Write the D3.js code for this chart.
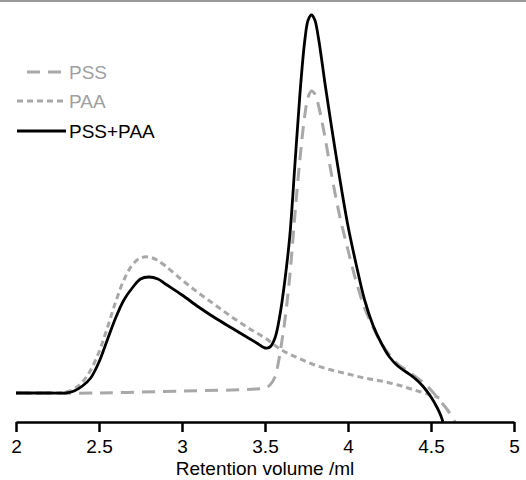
<!DOCTYPE html>
<html><head><meta charset="utf-8">
<script src="https://cdn.jsdelivr.net/npm/d3@7"></script>
<style>body{margin:0;background:#fff}svg{display:block}text{font-family:"Liberation Sans",Arial,sans-serif}</style>
</head><body><svg id="c" width="526" height="480"></svg>
<script>
const xTicks = [2, 2.5, 3, 3.5, 4, 4.5, 5];
const xTickLabels = ["2", "2.5", "3", "3.5", "4", "4.5", "5"];
const seriesNames = ["PSS", "PAA", "PSS+PAA"];
const pssX = [2.0,2.5,3.0,3.3,3.45,3.5,3.53,3.56,3.58,3.60,3.62,3.65,3.68,3.71,3.74,3.76,3.78,3.80,3.82,3.86,3.90,3.95,4.00,4.05,4.10,4.15,4.20,4.25,4.30,4.35,4.40,4.45,4.50,4.55,4.60,4.645];
const pssY = [7.25,7.25,7.75,8,8.25,8.5,9.25,11.25,14.75,19.75,25.5,36.75,51.75,65.5,76.75,81.25,82.75,82,79.5,71.5,62,51.5,43,35,28.5,23.75,19.75,16.75,14.5,13,11.5,10,8,5.5,3,0];
const paaX = [2.0,2.3,2.35,2.40,2.45,2.50,2.55,2.60,2.65,2.70,2.75,2.80,2.85,2.90,3.00,3.10,3.20,3.30,3.40,3.50,3.60,3.70,3.80,3.90,4.00,4.10,4.20,4.30,4.40,4.50,4.55];
const paaY = [7.25,7.5,8.25,10,13,17.5,23.5,30,35.5,39.25,41,41.25,40.5,39,35.5,32.25,29.25,26.25,23.5,21,18,16,14.25,13,12,11,10.25,9.25,8,6.75,6];
const mixX = [2.0,2.205,2.30,2.35,2.40,2.45,2.50,2.55,2.60,2.65,2.70,2.75,2.80,2.855,2.90,3.00,3.10,3.20,3.30,3.40,3.45,3.50,3.53,3.56,3.59,3.62,3.65,3.68,3.71,3.74,3.76,3.78,3.80,3.82,3.84,3.86,3.90,3.95,4.00,4.05,4.10,4.15,4.20,4.25,4.30,4.35,4.40,4.45,4.50,4.535,4.56,4.572];
const mixY = [7.25,7.25,7.25,7.75,9,11,15,20.5,26,30.5,33.5,35.75,36.25,35.75,34.5,31.75,28.75,26,23.5,21,19.75,18.5,18.75,21,26.75,35.5,46.75,64.25,81.75,95.5,100.5,101.75,100.5,96.5,91,85,74,61,49,39.25,30.5,24.25,19.75,16.25,14,12.5,11,9,6.25,3.75,1.5,0];

const svg = d3.select("#c");
const x = d3.scaleLinear().domain([2,5]).range([16,514]);
const y = d3.scaleLinear().domain([0,100]).range([422,22]);

svg.append("rect").attr("x",0).attr("y",0).attr("width",526).attr("height",2).attr("fill","#9a9a9a");

const line = d3.line().x(d=>x(d[0])).y(d=>y(d[1])).curve(d3.curveCatmullRom.alpha(0.5));
const zip = (a,b)=>a.map((v,i)=>[v,b[i]]);
const gray = "#a8a8a8";

svg.append("path").datum(zip(paaX,paaY)).attr("d",line).attr("fill","none")
  .attr("stroke",gray).attr("stroke-width",3).attr("stroke-dasharray","6,4");
svg.append("path").datum(zip(pssX,pssY)).attr("d",line).attr("fill","none")
  .attr("stroke",gray).attr("stroke-width",3).attr("stroke-dasharray","13,8");
svg.append("path").datum(zip(mixX,mixY)).attr("d",line).attr("fill","none")
  .attr("stroke","#000").attr("stroke-width",2.8);

const ax = svg.append("g").attr("transform","translate(0,422)")
  .call(d3.axisBottom(x).tickValues(xTicks).tickFormat((d,i)=>xTickLabels[i]).tickSize(10).tickSizeOuter(0).tickPadding(8));
ax.select(".domain").attr("stroke","#000").attr("stroke-width",2.5);
ax.selectAll(".tick line").attr("stroke","#000").attr("stroke-width",2.5);
ax.selectAll(".tick text").attr("font-size",19).attr("fill","#000").attr("font-family","Liberation Sans, Arial, sans-serif");

svg.append("text").attr("x",x(3.5)).attr("y",475).attr("text-anchor","middle")
  .attr("font-size",19).attr("fill","#000").text("Retention volume /ml");

// legend
const lg = [
  {name: seriesNames[0], y: 72, color: gray, dash: "13,8", x1: 27, x2: 63, tc: "#a0a0a0"},
  {name: seriesNames[1], y: 101, color: gray, dash: "6,4", x1: 17, x2: 66, tc: "#a0a0a0"},
  {name: seriesNames[2], y: 131, color: "#000", dash: null, x1: 17, x2: 66, tc: "#000"}
];
lg.forEach(d=>{
  svg.append("line").attr("x1",d.x1).attr("x2",d.x2).attr("y1",d.y).attr("y2",d.y)
    .attr("stroke",d.color).attr("stroke-width",d.dash?3:2.8).attr("stroke-dasharray",d.dash);
  svg.append("text").attr("x",69).attr("y",d.y+7).attr("font-size",19).attr("fill",d.tc).text(d.name);
});
</script></body></html>
